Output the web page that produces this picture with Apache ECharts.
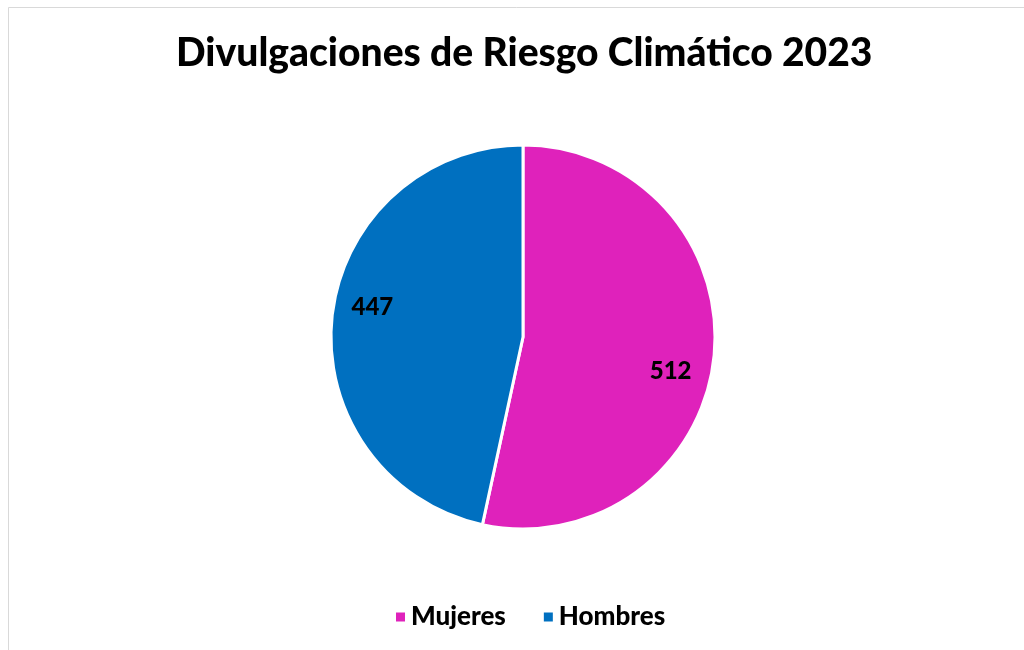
<!DOCTYPE html>
<html>
<head>
<meta charset="utf-8">
<script src="https://cdn.jsdelivr.net/npm/echarts@6/dist/echarts.min.js"></script>
<style>
html,body{margin:0;padding:0;background:#fff;}
#chart{width:1024px;height:650px;}
</style>
</head>
<body>
<div id="chart"></div>
<script>
const titleText = 'Divulgaciones de Riesgo Climático 2023';
const categories = ['Mujeres', 'Hombres'];
const values = [512, 447];
const colors = ['#DF22BB', '#0070C0'];

const FONT = 'Lato';
const labelShift = [[-7, 18], [4, -13]];
const chart = echarts.init(document.getElementById('chart'));
const pieData = categories.map((c, i) => ({ name: c, value: values[i], itemStyle: { color: colors[i] } }));

chart.setOption({
  animation: false,
  backgroundColor: '#ffffff',
  title: {
    text: titleText,
    left: 171,
    top: 29,
    textStyle: { fontFamily: FONT, fontWeight: 900, fontSize: 39, color: '#000' }
  },
  graphic: [{
    type: 'rect',
    shape: { x: 8.5, y: 7.5, width: 1100, height: 700 },
    style: { fill: 'none', stroke: '#d9d9d9', lineWidth: 1 },
    silent: true
  }],
  legend: {
    data: categories,
    bottom: 15,
    left: 389,
    itemWidth: 11,
    itemHeight: 11,
    itemGap: 36,
    icon: 'rect',
    textStyle: { fontFamily: FONT, fontWeight: 900, fontSize: 26, color: '#000' }
  },
  series: [{
    type: 'pie',
    center: [523, 337],
    radius: [0, 192],
    startAngle: 90,
    clockwise: true,
    data: pieData,
    itemStyle: { borderColor: '#fff', borderWidth: 3 },
    label: { show: false },
    labelLine: { show: false },
    emphasis: { disabled: true }
  }, {
    type: 'pie',
    center: [523, 337],
    radius: [113, 192],
    startAngle: 90,
    clockwise: true,
    silent: true,
    data: pieData.map(d => ({ name: d.name, value: d.value, itemStyle: { color: 'rgba(0,0,0,0)' } })),
    itemStyle: { borderWidth: 0 },
    label: {
      show: true,
      position: 'inside',
      formatter: '{c}',
      fontFamily: FONT,
      fontWeight: 900,
      fontSize: 24,
      color: '#000'
    },
    labelLayout: function (p) {
      return { dx: labelShift[p.dataIndex][0], dy: labelShift[p.dataIndex][1] };
    },
    labelLine: { show: false },
    emphasis: { disabled: true }
  }]
});
</script>
</body>
</html>
